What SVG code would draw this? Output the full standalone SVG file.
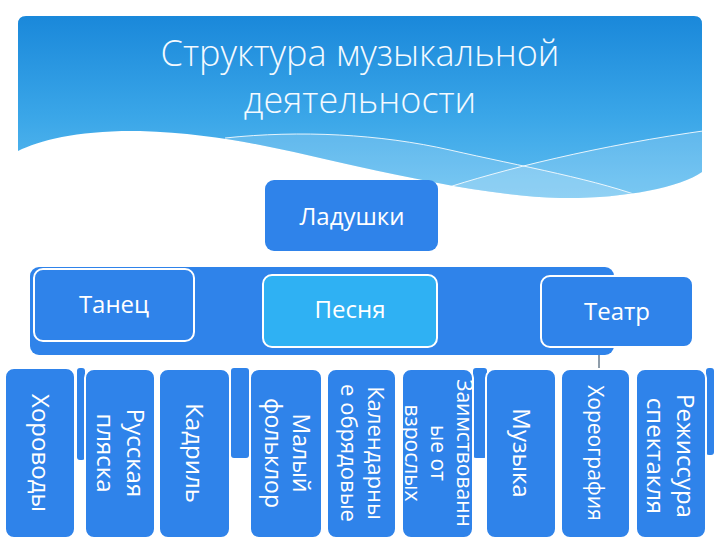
<svg xmlns="http://www.w3.org/2000/svg" width="720" height="540" viewBox="0 0 720 540">
<defs>
  <linearGradient id="hdr" x1="0" y1="0" x2="0" y2="1">
    <stop offset="0" stop-color="#1a88da"/>
    <stop offset="0.55" stop-color="#3aa6e8"/>
    <stop offset="1" stop-color="#5fbdf0"/>
  </linearGradient>
  <clipPath id="hclip">
    <path d="M18,24 Q18,16 26,16 H694 Q702,16 702,24 V172 C680,188 620,199 560,198 C500,197 420,180 360,167 C290,152 230,134 140,131 C80,130 40,140 18,151 Z"/>
  </clipPath>
  <style>
    .box{fill:#2f83ea;stroke:#ffffff;stroke-width:2}
    .plain{fill:#2f83ea}
    .bar{fill:#2f83ea}
    .lbl{font-family:"Open Sans","Noto Sans","DejaVu Sans",sans-serif;font-size:24px;fill:#ffffff;text-anchor:middle}
    .vl{font-family:"Open Sans","Noto Sans","DejaVu Sans",sans-serif;font-size:24px;fill:#ffffff;text-anchor:middle}
    .title{font-family:"Open Sans","Noto Sans","DejaVu Sans",sans-serif;font-size:36px;font-weight:300;fill:#f4faff;text-anchor:middle}
    .conn{stroke:#1e3a55;stroke-width:1;fill:none}
  </style>
</defs>
<rect width="720" height="540" fill="#ffffff"/>

<g id="header">
  <path d="M18,24 Q18,16 26,16 H694 Q702,16 702,24 V172 C680,188 620,199 560,198 C500,197 420,180 360,167 C290,152 230,134 140,131 C80,130 40,140 18,151 Z" fill="url(#hdr)"/>
  <g clip-path="url(#hclip)">
    <path d="M225,138 C300,130 380,134 450,150 C520,166 600,180 650,200 L650,260 L200,260 Z" fill="#ffffff" fill-opacity="0.17"/>
    <path d="M440,190 C500,170 600,145 710,130 L710,260 L440,260 Z" fill="#ffffff" fill-opacity="0.17"/>
    <path d="M225,138 C300,130 380,134 450,150 C520,166 600,180 650,200" stroke="#ffffff" stroke-opacity="0.85" stroke-width="1" fill="none"/>
    <path d="M440,190 C500,170 600,145 710,130" stroke="#ffffff" stroke-opacity="0.85" stroke-width="1" fill="none"/>
  </g>
  <text class="title" x="360" y="66">Структура музыкальной</text>
  <text class="title" x="360" y="113">деятельности</text>
</g>

<g id="connectors">
  <line class="conn" x1="599" y1="347" x2="599" y2="382"/>
</g>

<g id="ladushki">
  <rect class="plain" x="265" y="180" width="173" height="71" rx="9"/>
  <text class="lbl" x="352" y="225">Ладушки</text>
</g>

<g id="level1-bar">
  <rect class="plain" x="30" y="267" width="584" height="88" rx="9"/>
</g>

<g id="tanec">
  <rect class="box" x="34" y="269" width="160" height="72" rx="9"/>
  <text class="lbl" x="114" y="313">Танец</text>
</g>
<g id="pesnya">
  <rect class="box" x="263" y="275" width="174" height="72" rx="9" style="fill:#2fb1f3"/>
  <text class="lbl" x="350" y="318">Песня</text>
</g>
<g id="teatr">
  <rect class="box" x="541" y="276" width="152" height="71" rx="9"/>
  <text class="lbl" x="617" y="320">Театр</text>
</g>

<g id="level2-bars">
  <rect class="bar" x="77" y="368" width="8" height="92" rx="3"/>
  <rect class="bar" x="231" y="368" width="18" height="90" rx="3"/>
  <rect class="bar" x="473" y="368" width="14" height="90" rx="3"/>
  <rect class="bar" x="706" y="368" width="8" height="87" rx="3"/>
</g>

<g id="khorovody">
  <rect class="box" x="5" y="368" width="70" height="170" rx="9"/>
  <text class="vl" transform="translate(40,453) rotate(90)" x="0" y="8">Хороводы</text>
</g>
<g id="russkaya">
  <rect class="box" x="85" y="369" width="70" height="169" rx="9"/>
  <text class="vl" transform="translate(120,453) rotate(90)"><tspan x="0" y="-7">Русская</tspan><tspan x="0" y="23">пляска</tspan></text>
</g>
<g id="kadril">
  <rect class="box" x="159" y="369" width="71" height="169" rx="9"/>
  <text class="vl" transform="translate(194.5,453) rotate(90)" x="0" y="9">Кадриль</text>
</g>
<g id="malyi">
  <rect class="box" x="250" y="369" width="72" height="169" rx="9"/>
  <text class="vl" transform="translate(286,453) rotate(90)" style="font-size:23px"><tspan x="0" y="-7">Малый</tspan><tspan x="0" y="21">фольклор</tspan></text>
</g>
<g id="kalendarnye">
  <rect class="box" x="327" y="369" width="69" height="169" rx="9"/>
  <text class="vl" transform="translate(361.5,453) rotate(90)" style="font-size:22px"><tspan x="0" y="-6">Календарны</tspan><tspan x="0" y="21">е обрядовые</tspan></text>
</g>
<g id="zaimstvovannye">
  <rect class="box" x="402" y="369" width="71" height="169" rx="9"/>
  <text class="vl" transform="translate(437.5,453) rotate(90)" style="font-size:21px"><tspan x="0" y="-19">Заимствованн</tspan><tspan x="0" y="7">ые от</tspan><tspan x="0" y="33">взрослых</tspan></text>
</g>
<g id="muzyka">
  <rect class="box" x="486" y="369" width="70" height="169" rx="9"/>
  <text class="vl" transform="translate(521,453) rotate(90)" x="0" y="8">Музыка</text>
</g>
<g id="khoreografiya">
  <rect class="box" x="561" y="369" width="69" height="169" rx="9"/>
  <text class="vl" transform="translate(595.5,453) rotate(90)" x="0" y="8" style="font-size:21px">Хореография</text>
</g>
<g id="rezhissura">
  <rect class="box" x="636" y="369" width="70" height="169" rx="9"/>
  <text class="vl" transform="translate(671,456) rotate(90)"><tspan x="0" y="-6">Режиссура</tspan><tspan x="0" y="24">спектакля</tspan></text>
</g>
</svg>
